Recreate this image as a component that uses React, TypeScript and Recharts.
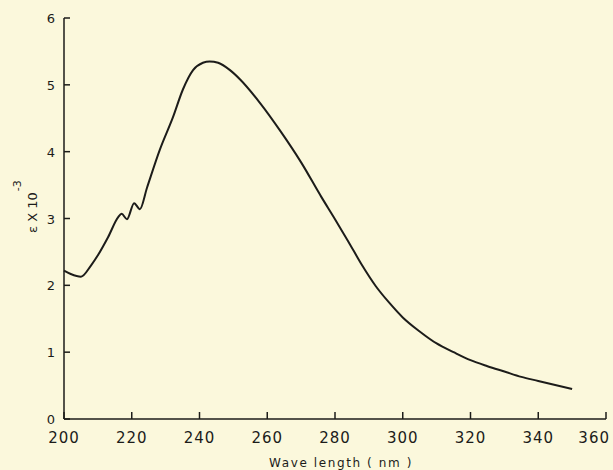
import { CartesianGrid, Label, Line, LineChart, XAxis, YAxis } from "recharts";

// wavelength (nm) and extinction (eps x 10^-3)
const wavelengths = [
  200, 202, 205, 208, 210, 213, 216, 217, 218.6, 220.7, 222.4, 224.5, 228.3, 232.2,
  235.1, 238.1, 241, 243, 245.5, 249, 252, 258, 264, 270, 276, 280, 284, 288, 292,
  296, 300, 305, 310, 315, 320, 325, 330, 335, 340, 345, 350,
];
const epsilon = [
  2.22, 2.17, 2.13, 2.3, 2.45, 2.72, 3.02, 3.07, 2.99, 3.23, 3.14, 3.46, 4.03, 4.52,
  4.93, 5.22, 5.33, 5.35, 5.33, 5.22, 5.08, 4.72, 4.3, 3.84, 3.32, 2.99, 2.65, 2.3, 1.99,
  1.74, 1.52, 1.31, 1.13, 1.0, 0.88, 0.79, 0.71, 0.63, 0.57, 0.51, 0.45,
];
const xTicks = [200, 220, 240, 260, 280, 300, 320, 340, 360];
const yTicks = [0, 1, 2, 3, 4, 5, 6];

const data = wavelengths.map((wl, i) => ({ wl, eps: epsilon[i] }));

const INK = "#1c1c1a";
const FONT = "'DejaVu Sans', sans-serif";

// ticks point inward on this plot, so draw line + label together
function XTick(props: any) {
  const { x, y, payload } = props;
  const last = payload.value === 360;
  return (
    <g>
      <line x1={x} x2={x} y1={y} y2={y - 7} stroke={INK} strokeWidth={1.5} />
      <text
        x={last ? 610 : x}
        y={y + 24}
        textAnchor={last ? "end" : "middle"}
        fill={INK}
        fontSize={15}
        fontFamily={FONT}
        letterSpacing={1}
      >
        {payload.value}
      </text>
    </g>
  );
}

function YTick(props: any) {
  const { x, y, payload } = props;
  return (
    <g>
      <line x1={x} x2={x + 6} y1={y} y2={y} stroke={INK} strokeWidth={1.5} />
      <text
        x={x - 9}
        y={y + 5}
        textAnchor="end"
        fill={INK}
        fontSize={13}
        fontFamily={FONT}
      >
        {payload.value}
      </text>
    </g>
  );
}

export default function App() {
  return (
    <div
      style={{
        position: "absolute",
        left: 0,
        top: 0,
        width: 613,
        height: 470,
        background: "#fbf8dc",
      }}
    >
      <LineChart
        width={613}
        height={470}
        data={data}
        margin={{ top: 18, right: 7, bottom: 0, left: 0 }}
      >
        <CartesianGrid stroke="none" />
        <XAxis
          dataKey="wl"
          type="number"
          domain={[200, 360]}
          ticks={xTicks}
          interval={0}
          height={51}
          tickSize={0}
          tickMargin={0}
          tickLine={false}
          axisLine={{ stroke: INK, strokeWidth: 1.5 }}
          tick={<XTick />}
        >
          <Label
            content={() => (
              <text
                x={341}
                y={467}
                textAnchor="middle"
                fill={INK}
                fontSize={12}
                fontFamily={FONT}
                letterSpacing={1.6}
              >
                Wave length ( nm )
              </text>
            )}
          />
        </XAxis>
        <YAxis
          type="number"
          domain={[0, 6]}
          ticks={yTicks}
          interval={0}
          width={64}
          tickSize={0}
          tickMargin={0}
          tickLine={false}
          axisLine={{ stroke: INK, strokeWidth: 1.5 }}
          tick={<YTick />}
        >
          <Label
            content={() => (
              <text
                transform="translate(37,233) rotate(-90)"
                textAnchor="start"
                fill={INK}
                fontSize={13}
                fontFamily={FONT}
              >
                ε X 10
                <tspan dy={-16} dx={1} fontSize={11}>
                  -3
                </tspan>
              </text>
            )}
          />
        </YAxis>
        <Line
          type="monotone"
          dataKey="eps"
          stroke={INK}
          strokeWidth={2}
          dot={false}
          isAnimationActive={false}
        />
      </LineChart>
    </div>
  );
}
